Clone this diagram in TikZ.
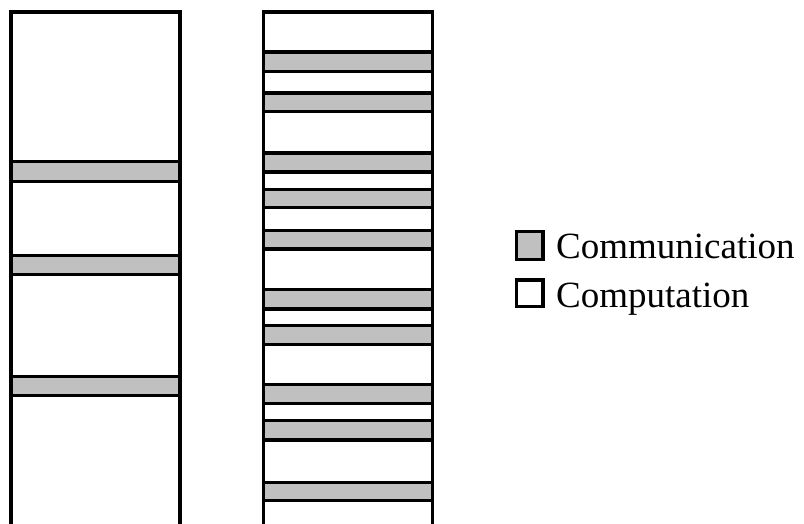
\documentclass[tikz,border=0pt]{standalone}
\usepackage{fontspec}
\setmainfont{Liberation Serif}
\definecolor{commgray}{RGB}{192,192,192}
\begin{document}
\begin{tikzpicture}[x=1pt,y=-1pt,
  colbox/.style={draw=black,line width=3.2pt,fill=white},
  commbar/.style={draw=black,line width=3.2pt,fill=commgray},
  legbox/.style={draw=black,line width=3.2pt},
  legtext/.style={anchor=base west,inner sep=0pt,font=\fontsize{37}{44}\selectfont}]
\useasboundingbox (0,0) rectangle (804,523);
\begin{scope}
  \clip (0,0) rectangle (804,523);
  % left column
  \draw[colbox] (11,12) rectangle (180,525.2);
  \foreach \a/\b in {161.7/181.3, 255.8/274.7, 376.3/395.3}
    \draw[commbar] (11,\a) rectangle (180,\b);
  % right column
  \draw[colbox] (263.7,12) rectangle (432.5,525.2);
  \foreach \a/\b in {52/71.3, 93/111.3, 153/172, 189.3/207.3, 230.3/249,
                     289.7/309, 325.7/344.3, 384.7/403.7, 420.7/440, 482.7/500.3}
    \draw[commbar] (263.7,\a) rectangle (432.5,\b);
\end{scope}
% legend
\draw[legbox,fill=commgray] (516.5,231.5) rectangle (543,259.5);
\draw[legbox,fill=white] (516.5,280) rectangle (543,306.5);
\node[legtext] (comm) at (556,258) {Communication};
\node[legtext] (comp) at (556,307) {Computation};
\end{tikzpicture}
\end{document}
